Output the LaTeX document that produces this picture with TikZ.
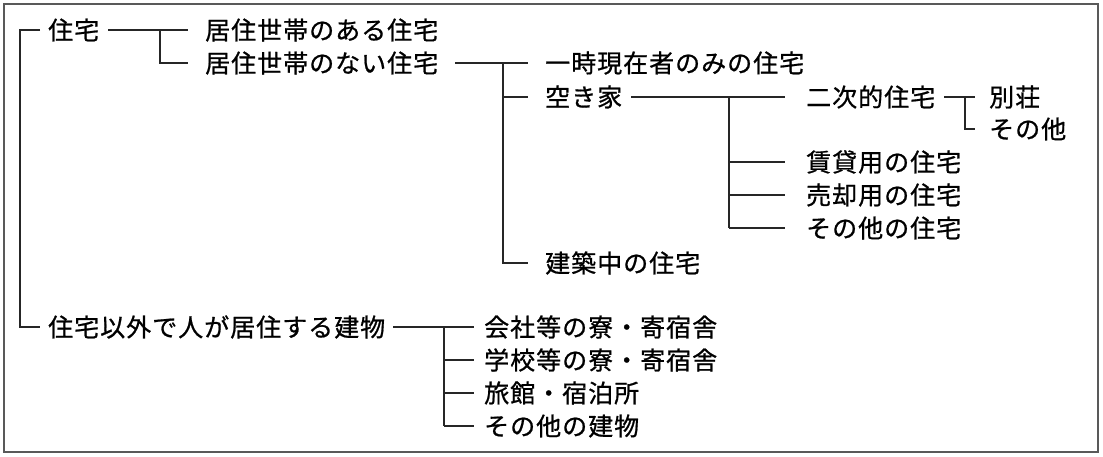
\documentclass[tikz,border=0pt]{standalone}
\usepackage{fontspec}
\newfontfamily\jp{Noto Sans CJK JP}[LetterSpace=4,FakeBold=0.8]
\usepackage{tikz}
\usetikzlibrary{positioning}

\tikzset{
  lbl/.style={anchor=west, inner sep=0pt, font={\jp\fontsize{25pt}{29pt}\selectfont}},
  br/.style={draw=black!85, line width=1.3pt},
}

\begin{document}
\begin{tikzpicture}[x=1pt,y=-1pt]
  \useasboundingbox (0,0) rectangle (1103,457);
  \draw[black!65, line width=1.2pt] (4,4) rectangle (1098,452);

  \node[lbl] (jutaku)   at (48,30)   {住宅};
  \node[lbl] (igai)     at (48,327)  {住宅以外で人が居住する建物};
  \node[lbl] (ari)      at (205,30)  {居住世帯のある住宅};
  \node[lbl] (nai)      at (205,63)  {居住世帯のない住宅};
  \node[lbl] (ichiji)   at (545,63)  {一時現在者のみの住宅};
  \node[lbl] (akiya)    at (545,97)  {空き家};
  \node[lbl] (kenchiku) at (545,263) {建築中の住宅};
  \node[lbl] (niji)     at (806,97)  {二次的住宅};
  \node[lbl] (bessou)   at (989,97)  {別荘};
  \node[lbl] (sonota)   at (989,129) {その他};
  \node[lbl] (chintai)  at (806,162) {賃貸用の住宅};
  \node[lbl] (baikyaku) at (806,195) {売却用の住宅};
  \node[lbl] (sonojt)   at (806,228) {その他の住宅};
  \node[lbl] (kaisha)   at (484,327) {会社等の寮・寄宿舎};
  \node[lbl] (gakkou)   at (484,360) {学校等の寮・寄宿舎};
  \node[lbl] (ryokan)   at (484,393) {旅館・宿泊所};
  \node[lbl] (tatemono) at (484,426) {その他の建物};

  \coordinate (root) at (20,30);
  \coordinate (j1) at (160,30);
  \coordinate (j2) at (503,63);
  \coordinate (j3) at (729,97);
  \coordinate (j4) at (965,97);
  \coordinate (j5) at (444,327);

  % root
  \draw[br] ([xshift=-8pt]jutaku.west) -- (root) |- ([xshift=-8pt]igai.west);
  % jutaku
  \draw[br] ([xshift=9pt]jutaku.east) -- ([xshift=-17pt]ari.west);
  \draw[br] (j1) |- ([xshift=-17pt]nai.west);
  % nai
  \draw[br] ([xshift=17pt]nai.east) -- ([xshift=-17pt]ichiji.west);
  \draw[br] (j2) |- ([xshift=-17pt]kenchiku.west);
  \draw[br] (j2 |- akiya.west) -- ([xshift=-17pt]akiya.west);
  % akiya
  \draw[br] ([xshift=9pt]akiya.east) -- ([xshift=-21pt]niji.west);
  \draw[br] (j3) -- (j3 |- sonojt.west);
  \foreach \n in {chintai,baikyaku,sonojt}
    \draw[br] (j3 |- \n.west) -- ([xshift=-21pt]\n.west);
  % niji
  \draw[br] ([xshift=9pt]niji.east) -- ([xshift=-14pt]bessou.west);
  \draw[br] (j4) |- ([xshift=-14pt]sonota.west);
  % igai
  \draw[br] ([xshift=8pt]igai.east) -- ([xshift=-10pt]kaisha.west);
  \draw[br] (j5) -- (j5 |- tatemono.west);
  \foreach \n in {gakkou,ryokan,tatemono}
    \draw[br] (j5 |- \n.west) -- ([xshift=-10pt]\n.west);
\end{tikzpicture}
\end{document}
